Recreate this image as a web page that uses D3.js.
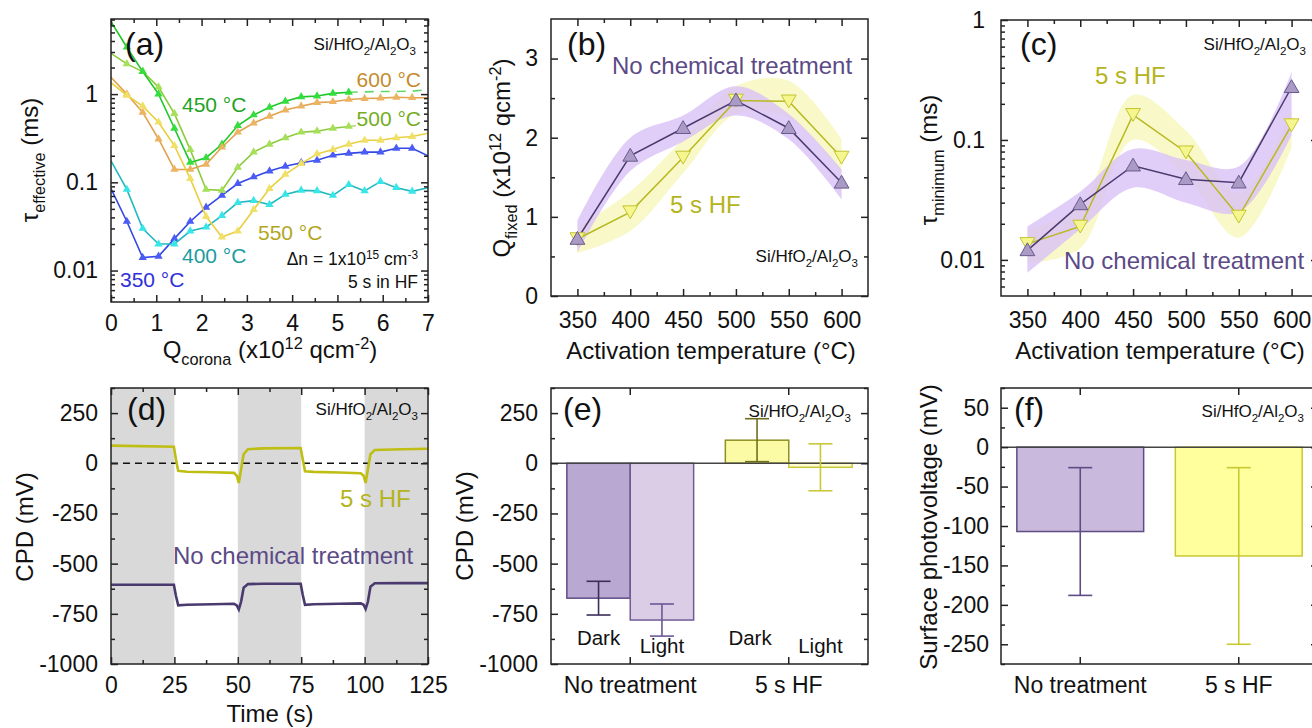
<!DOCTYPE html>
<html>
<head>
<meta charset="utf-8">
<script src="https://cdn.jsdelivr.net/npm/d3@7"></script>
<style>
  body { margin: 0; background: #fff; }
  svg { font-family: "Liberation Sans", Arial, sans-serif; }
</style>
</head>
<body>
<svg id="fig" width="1312" height="728"></svg>
<script>
// ---- (a) effective lifetime vs corona charge, 5 s in HF
const qCorona = [0, 0.35, 0.7, 1.05, 1.4, 1.75, 2.1, 2.45, 2.8, 3.15, 3.5, 3.85, 4.2, 4.55, 4.9, 5.25, 5.6, 5.95, 6.3, 6.65, 7.0];
const tau350 = [0.085, 0.036, 0.014, 0.0145, 0.023, 0.036, 0.052, 0.071, 0.097, 0.115, 0.134, 0.152, 0.167, 0.178, 0.203, 0.213, 0.22, 0.22, 0.243, 0.243, 0.2];
const tau400 = [0.175, 0.083, 0.030, 0.020, 0.020, 0.028, 0.031, 0.042, 0.059, 0.062, 0.056, 0.073, 0.081, 0.080, 0.071, 0.094, 0.080, 0.102, 0.087, 0.079, 0.087];
const tau450 = [6.6, 3.4, 1.8, 1.0, 0.41, 0.168, 0.19, 0.27, 0.44, 0.58, 0.71, 0.83, 0.93, 0.95, 1.02, 1.05, 1.06, 1.07, 1.07, 1.08, 1.12];
const tau500 = [2.9, 2.2, 1.8, 1.2, 0.6, 0.235, 0.083, 0.081, 0.148, 0.22, 0.27, 0.32, 0.37, 0.38, 0.41, 0.43, 0.45, 0.46, 0.47, 0.48, 0.47];
const tau550 = [1.35, 0.97, 0.73, 0.48, 0.26, 0.11, 0.041, 0.024, 0.028, 0.049, 0.085, 0.123, 0.163, 0.21, 0.235, 0.27, 0.30, 0.30, 0.32, 0.33, 0.36];
const tau600 = [1.55, 1.0, 0.62, 0.31, 0.14, 0.14, 0.16, 0.25, 0.37, 0.47, 0.56, 0.66, 0.73, 0.8, 0.82, 0.87, 0.89, 0.9, 0.92, 0.91, 0.91];

// ---- (b), (c) vs activation temperature
const temps = [350, 400, 450, 500, 550, 600];
const qfNT = [0.72, 1.77, 2.12, 2.47, 2.12, 1.43];
const qfNTlo = [0.55, 1.58, 1.95, 2.28, 1.98, 1.22];
const qfNThi = [0.95, 2.0, 2.28, 2.65, 2.3, 1.6];
const qfHF = [0.72, 1.06, 1.75, 2.47, 2.46, 1.75];
const qfHFlo = [0.54, 0.82, 1.55, 2.3, 2.25, 1.55];
const qfHFhi = [0.87, 1.32, 1.98, 2.65, 2.72, 1.98];

const tmNT = [0.012, 0.029, 0.061, 0.047, 0.044, 0.275];
const tmNTlo = [0.0078, 0.018, 0.04, 0.03, 0.025, 0.11];
const tmNThi = [0.019, 0.037, 0.084, 0.068, 0.06, 0.37];
const tmHF = [0.0136, 0.019, 0.162, 0.079, 0.023, 0.133];
const tmHFlo = [0.0094, 0.0125, 0.1, 0.05, 0.0153, 0.087];
const tmHFhi = [0.018, 0.028, 0.237, 0.12, 0.036, 0.178];

// ---- (d) CPD transients
const dTime = [0, 24.8, 25.6, 26.5, 30, 40, 48.5, 49.6, 50.4, 51.3, 52.3, 54, 60, 74.8, 75.6, 76.5, 80, 90, 98.5, 99.6, 100.4, 101.3, 102.3, 104, 115, 125];
const cpdHF = [88, 82, 20, -38, -42, -45, -48, -62, -98, -30, 45, 70, 74, 76, 20, -40, -43, -46, -50, -62, -98, -30, 45, 66, 70, 72];
const cpdNT = [-605, -605, -660, -708, -705, -702, -700, -708, -728, -690, -620, -602, -600, -600, -655, -705, -702, -700, -698, -705, -726, -690, -615, -598, -597, -597];
const darkSpans = [[0, 25], [50, 75], [100, 125]];

// ---- (e) CPD dark / light, (f) SPV
const groups = ["No treatment", "5 s HF"];
const eDark = [-672, 115];
const eDarkErr = [84, 107];
const eLight = [-781, -20];
const eLightErr = [80, 117];
const fSpv = [-107, -138];
const fErr = [81, 112];

const PURPLE = "#5b4a86", YELLOW = "#b4b41c";
const svg = d3.select("#fig");

// text with sub/superscript parts
function rich(sel, parts, size) {
  let shift = 0;
  parts.forEach(([s, m]) => {
    const target = m === "sub" ? size * 0.3 : m === "sup" ? -size * 0.36 : 0;
    sel.append("tspan").attr("dy", target - shift)
      .attr("font-size", m ? size * 0.68 : size).text(s);
    shift = target;
  });
  return sel;
}
function text(x, y, parts, size, opt = {}) {
  const t = svg.append("text").attr("x", x).attr("y", y)
    .attr("text-anchor", opt.anchor || "start").attr("fill", opt.color || "#111");
  if (opt.rotate) t.attr("x", null).attr("y", null).attr("transform", `translate(${x},${y}) rotate(-90)`);
  return rich(t, typeof parts === "string" ? [[parts, ""]] : parts, size);
}
const stack = (x, y, anchor) => text(x, y, [["Si/HfO", ""], ["2", "sub"], ["/Al", ""], ["2", "sub"], ["O", ""], ["3", "sub"]], 17, { anchor });

// frame with inward ticks on all four sides
function axes(box, x, y, c) {
  const g = svg.append("g");
  const put = (axis, tx, ty) => g.append("g").attr("transform", `translate(${tx},${ty})`).call(axis)
    .attr("font-size", 23).attr("font-family", null);
  const fmt = c.fmt || (d => String(d));
  const set = (a, vals, size) => (vals ? a.tickValues(vals) : a).tickSize(size);
  if (c.xMinor) {
    put(set(d3.axisBottom(x), c.xMinor, -4).tickFormat(""), 0, box.b);
    put(set(d3.axisTop(x), c.xMinor, -4).tickFormat(""), 0, box.t);
  }
  if (c.yMinor) {
    put(set(d3.axisLeft(y), c.yMinor, -4).tickFormat(""), box.l, 0);
    put(set(d3.axisRight(y), c.yMinor, -4).tickFormat(""), box.r, 0);
  }
  put(set(d3.axisBottom(x), c.xMajor, -7).tickPadding(c.xPad || 14).tickFormat(c.xFmt || fmt), 0, box.b);
  put(set(d3.axisTop(x), c.xMajor, -7).tickFormat(""), 0, box.t);
  put(set(d3.axisLeft(y), c.yMajor, -7).tickPadding(c.yPad || 13).tickFormat(fmt), box.l, 0);
  put(set(d3.axisRight(y), c.yMajor, -7).tickFormat(""), box.r, 0);
  g.selectAll(".domain").remove();
  g.selectAll("line").attr("stroke", "#222").attr("stroke-width", 1.5);
  g.selectAll("text").attr("fill", "#111");
  g.append("rect").attr("x", box.l).attr("y", box.t)
    .attr("width", box.r - box.l).attr("height", box.b - box.t)
    .attr("fill", "none").attr("stroke", "#222").attr("stroke-width", 1.5);
}
function clipFor(id, box) {
  svg.append("clipPath").attr("id", id).append("rect")
    .attr("x", box.l).attr("y", box.t).attr("width", box.r - box.l).attr("height", box.b - box.t);
  return svg.append("g").attr("clip-path", `url(#${id})`);
}
const logMinor = (lo, hi) => d3.range(lo, hi + 1).flatMap(e => d3.range(2, 10).map(k => k * Math.pow(10, e)));

// ================= (a)
{
  const box = { l: 111, t: 19, r: 428, b: 302 };
  const x = d3.scaleLinear([0, 7], [box.l, box.r]);
  const y = d3.scaleLog([0.0044, 7.1], [box.b, box.t]);
  // markUntil: beyond it the trace is only a faint dashed remnant in the figure
  const series = [
    { v: tau350, line: "#3348e6", fill: "#4b5cf5" },
    { v: tau400, line: "#22b8c0", fill: "#38e6ea" },
    { v: tau500, line: "#8ccc3c", fill: "#a6e05a", markUntil: 5.3 },
    { v: tau450, line: "#1fc82a", fill: "#35de3e", markUntil: 5.3 },
    { v: tau600, line: "#e2a24e", fill: "#ecb462" },
    { v: tau550, line: "#e8d040", fill: "#f0e068" }
  ];
  const g = clipFor("clipA", box);
  const lineGen = d3.line().x(d => x(d[0])).y(d => y(d[1]));
  series.forEach(s => {
    const lim = s.markUntil || 7;
    const pts = qCorona.map((q, i) => [q, s.v[i]]);
    g.append("path").datum(pts.filter(d => d[0] <= lim)).attr("fill", "none")
      .attr("stroke", s.line).attr("stroke-width", 1.6).attr("d", lineGen);
    if (s.markUntil) {
      g.append("path").datum(pts.filter(d => d[0] >= 5.25)).attr("fill", "none")
        .attr("stroke", s.line).attr("stroke-width", 1.6).attr("stroke-dasharray", "9,7")
        .attr("opacity", 0.7).attr("d", lineGen);
    }
    g.selectAll(null).data(pts.filter(d => d[0] > 0 && d[0] < Math.min(lim, 7))).join("path")
      .attr("transform", d => `translate(${x(d[0])},${y(d[1])})`)
      .attr("d", d3.symbol(d3.symbolTriangle, 30)).attr("fill", s.fill);
  });
  svg.append("rect").attr("x", 356).attr("y", 108).attr("width", 68).attr("height", 22).attr("fill", "#fff");
  axes(box, x, y, {
    xMajor: d3.range(0, 8), xMinor: d3.range(0.5, 7, 1), xPad: 13,
    yMajor: [0.01, 0.1, 1], yMinor: logMinor(-3, 0).filter(v => v > 0.0044 && v < 7.1)
  });
  text(125, 55, "(a)", 32);
  stack(416, 50, "end");
  text(421, 87, "600 °C", 21, { anchor: "end", color: "#c48c2c" });
  text(182, 112, "450 °C", 21, { color: "#1fa324" });
  text(421, 126, "500 °C", 21, { anchor: "end", color: "#74ad1e" });
  text(258, 240, "550 °C", 21, { color: "#b3a61e" });
  text(182, 263, "400 °C", 21, { color: "#1c9c9c" });
  text(120, 287, "350 °C", 21, { color: "#3030d8" });
  text(418, 265, [["Δn = 1x10", ""], ["15", "sup"], [" cm", ""], ["-3", "sup"]], 17.5, { anchor: "end" });
  text(418, 288, "5 s in HF", 17.5, { anchor: "end" });
  text(38, 160, [["τ", ""], ["effective", "sub"], [" (ms)", ""]], 24, { anchor: "middle", rotate: true });
  text(270, 358, [["Q", ""], ["corona", "sub"], [" (x10", ""], ["12", "sup"], [" qcm", ""], ["-2", "sup"], [")", ""]], 24, { anchor: "middle" });
}

// shared drawing for (b) and (c)
function tempPanel(box, y, id, nt, ntLo, ntHi, hf, hfLo, hfHi) {
  const x = d3.scaleLinear([325, 625], [box.l, box.r]);
  const g = clipFor(id, box);
  const band = (lo, hi) => d3.area().x((d, i) => x(temps[i])).y0((d, i) => y(lo[i])).y1((d, i) => y(hi[i]))
    .curve(d3.curveCatmullRom)(temps);
  g.append("path").attr("d", band(hfLo, hfHi)).attr("fill", "#f7f7bf").attr("opacity", 0.85);
  g.append("path").attr("d", band(ntLo, ntHi)).attr("fill", "#d9c2f6").attr("opacity", 0.8);
  const line = v => d3.line().x((d, i) => x(temps[i])).y((d, i) => y(v[i]))(temps);
  g.append("path").attr("d", line(hf)).attr("fill", "none").attr("stroke", "#b8b820").attr("stroke-width", 1.5);
  g.append("path").attr("d", line(nt)).attr("fill", "none").attr("stroke", "#4a3a6e").attr("stroke-width", 1.5);
  g.selectAll(null).data(temps).join("path")
    .attr("transform", (d, i) => `translate(${x(d)},${y(hf[i]) - 2}) rotate(180)`)
    .attr("d", d3.symbol(d3.symbolTriangle, 95)).attr("fill", "#f6f68e").attr("stroke", "#c4c430");
  g.selectAll(null).data(temps).join("path")
    .attr("transform", (d, i) => `translate(${x(d)},${y(nt[i]) + 1})`)
    .attr("d", d3.symbol(d3.symbolTriangle, 95)).attr("fill", "#a99bc6").attr("stroke", "#6a5a8c");
  return x;
}

// ================= (b)
{
  const box = { l: 551, t: 19, r: 868, b: 296 };
  const y = d3.scaleLinear([0, 3.5], [box.b, box.t]);
  const x = tempPanel(box, y, "clipB", qfNT, qfNTlo, qfNThi, qfHF, qfHFlo, qfHFhi);
  axes(box, x, y, {
    xMajor: temps, xMinor: d3.range(375, 600, 50), xPad: 16,
    yMajor: [0, 1, 2, 3], yMinor: [0.5, 1.5, 2.5]
  });
  text(567, 55, "(b)", 32);
  text(732, 74, "No chemical treatment", 24, { anchor: "middle", color: PURPLE });
  text(670, 213, "5 s HF", 24, { color: YELLOW });
  stack(858, 262, "end");
  text(510, 158, [["Q", ""], ["fixed", "sub"], [" (x10", ""], ["12", "sup"], [" qcm", ""], ["-2", "sup"], [")", ""]], 24, { anchor: "middle", rotate: true });
  text(711, 359, "Activation temperature (°C)", 24, { anchor: "middle" });
}

// ================= (c)
{
  const box = { l: 1001, t: 20, r: 1318, b: 296 };
  const y = d3.scaleLog([0.005, 1], [box.b, box.t]);
  const x = tempPanel(box, y, "clipC", tmNT, tmNTlo, tmNThi, tmHF, tmHFlo, tmHFhi);
  axes(box, x, y, {
    xMajor: temps, xMinor: d3.range(375, 600, 50), xPad: 16, yPad: 16,
    yMajor: [0.01, 0.1, 1], yMinor: logMinor(-3, -1).filter(v => v > 0.005 && v < 1)
  });
  text(1020, 55, "(c)", 32);
  stack(1306, 50, "end");
  text(1095, 84, "5 s HF", 24, { color: YELLOW });
  text(1064, 269, "No chemical treatment", 24, { color: PURPLE });
  text(937, 160, [["τ", ""], ["minimum", "sub"], [" (ms)", ""]], 24, { anchor: "middle", rotate: true });
  text(1160, 359, "Activation temperature (°C)", 24, { anchor: "middle" });
}

// ================= (d)
{
  const box = { l: 111, t: 388, r: 428, b: 664 };
  const x = d3.scaleLinear([0, 125], [box.l, box.r]);
  const y = d3.scaleLinear([-1000, 375], [box.b, box.t]);
  const g = clipFor("clipD", box);
  g.selectAll(null).data(darkSpans).join("rect")
    .attr("x", d => x(d[0])).attr("width", d => x(d[1]) - x(d[0]))
    .attr("y", box.t).attr("height", box.b - box.t).attr("fill", "#d9d9d9");
  g.append("line").attr("x1", box.l).attr("x2", box.r).attr("y1", y(0)).attr("y2", y(0))
    .attr("stroke", "#111").attr("stroke-width", 1.4).attr("stroke-dasharray", "7,5");
  const line = v => d3.line().x((d, i) => x(d)).y((d, i) => y(v[i]))(dTime);
  g.append("path").attr("d", line(cpdHF)).attr("fill", "none").attr("stroke", "#bebe14").attr("stroke-width", 2.6);
  g.append("path").attr("d", line(cpdNT)).attr("fill", "none").attr("stroke", "#4a3a6e").attr("stroke-width", 2.6);
  axes(box, x, y, {
    xMajor: d3.range(0, 126, 25), xMinor: d3.range(12.5, 125, 25), xPad: 13,
    yMajor: d3.range(-1000, 251, 250), yMinor: d3.range(-875, 376, 250)
  });
  text(127, 420, "(d)", 32);
  stack(418, 415, "end");
  text(340, 507, "5 s HF", 24, { color: YELLOW });
  text(173, 564, "No chemical treatment", 24, { color: PURPLE });
  text(33, 527, "CPD (mV)", 24, { anchor: "middle", rotate: true });
  text(270, 722, "Time (s)", 24, { anchor: "middle" });
}

// error bar helper
function errBar(g, cx, y, v, e, color) {
  g.append("line").attr("x1", cx).attr("x2", cx).attr("y1", y(v - e)).attr("y2", y(v + e));
  [v - e, v + e].forEach(t => g.append("line").attr("x1", cx - 12).attr("x2", cx + 12).attr("y1", y(t)).attr("y2", y(t)));
  g.selectAll("line").attr("stroke", color).attr("stroke-width", 1.6);
}

// ================= (e)
{
  const box = { l: 551, t: 388, r: 868, b: 664 };
  const x = d3.scaleBand(groups, [box.l, box.r]).paddingInner(0.2).paddingOuter(0.1);
  const sub = d3.scaleBand(["Dark", "Light"], [0, x.bandwidth()]);
  const y = d3.scaleLinear([-1000, 375], [box.b, box.t]);
  const styles = [
    { fill: "#b9a8d2", stroke: "#5f4c85", err: "#3c2e58", dark: true },
    { fill: "#dccde7", stroke: "#6e5c96", err: "#6a5894", dark: false },
    { fill: "#fbfba6", stroke: "#8f8f26", err: "#6e6e1e", dark: true },
    { fill: "#fdfdd4", stroke: "#c8c838", err: "#c8c838", dark: false }
  ];
  const bars = [];
  groups.forEach((grp, i) => {
    bars.push({ x0: x(grp) + sub("Dark"), v: eDark[i], e: eDarkErr[i], s: styles[i * 2] });
    bars.push({ x0: x(grp) + sub("Light"), v: eLight[i], e: eLightErr[i], s: styles[i * 2 + 1] });
  });
  bars.forEach(b => {
    svg.append("rect").attr("x", b.x0).attr("width", sub.bandwidth())
      .attr("y", y(Math.max(0, b.v))).attr("height", Math.abs(y(b.v) - y(0)))
      .attr("fill", b.s.fill).attr("stroke", b.s.stroke).attr("stroke-width", 1.5);
  });
  svg.append("line").attr("x1", box.l).attr("x2", box.r).attr("y1", y(0)).attr("y2", y(0))
    .attr("stroke", "#444").attr("stroke-width", 1.5);
  bars.forEach(b => errBar(svg.append("g"), b.x0 + sub.bandwidth() / 2, y, b.v, b.e, b.s.err));
  axes(box, x, y, {
    xMajor: null, xPad: 13,
    yMajor: d3.range(-1000, 251, 250), yMinor: d3.range(-875, 376, 250)
  });
  bars.forEach(b => text(b.x0 + sub.bandwidth() / 2 - (b.s.dark && b.v > 0 ? 7 : 0), b.s.dark ? 645 : 653,
    b.s.dark ? "Dark" : "Light", 20.5, { anchor: "middle" }));
  text(563, 420, "(e)", 32);
  stack(851, 417, "end");
  text(473, 526, "CPD (mV)", 24, { anchor: "middle", rotate: true });
}

// ================= (f)
{
  const box = { l: 1001, t: 388, r: 1318, b: 664 };
  const x = d3.scaleBand(groups, [box.l, box.r]).paddingInner(0.2).paddingOuter(0.1);
  const y = d3.scaleLinear([-275, 75], [box.b, box.t]);
  const styles = [
    { fill: "#c9badd", stroke: "#5f4c85" },
    { fill: "#ffff9e", stroke: "#c8c830" }
  ];
  groups.forEach((grp, i) => {
    svg.append("rect").attr("x", x(grp)).attr("width", x.bandwidth())
      .attr("y", y(0)).attr("height", y(fSpv[i]) - y(0))
      .attr("fill", styles[i].fill).attr("stroke", styles[i].stroke).attr("stroke-width", 1.5);
  });
  svg.append("line").attr("x1", box.l).attr("x2", box.r).attr("y1", y(0)).attr("y2", y(0))
    .attr("stroke", "#444").attr("stroke-width", 1.5);
  groups.forEach((grp, i) => errBar(svg.append("g"), x(grp) + x.bandwidth() / 2, y, fSpv[i], fErr[i], styles[i].stroke));
  axes(box, x, y, {
    xMajor: null, xPad: 13, yPad: 12,
    yMajor: d3.range(-250, 51, 50), yMinor: d3.range(-275, 76, 50)
  });
  text(1014, 420, "(f)", 32);
  stack(1304, 417, "end");
  text(937, 527, "Surface photovoltage (mV)", 24, { anchor: "middle", rotate: true });
}
</script>
</body>
</html>
